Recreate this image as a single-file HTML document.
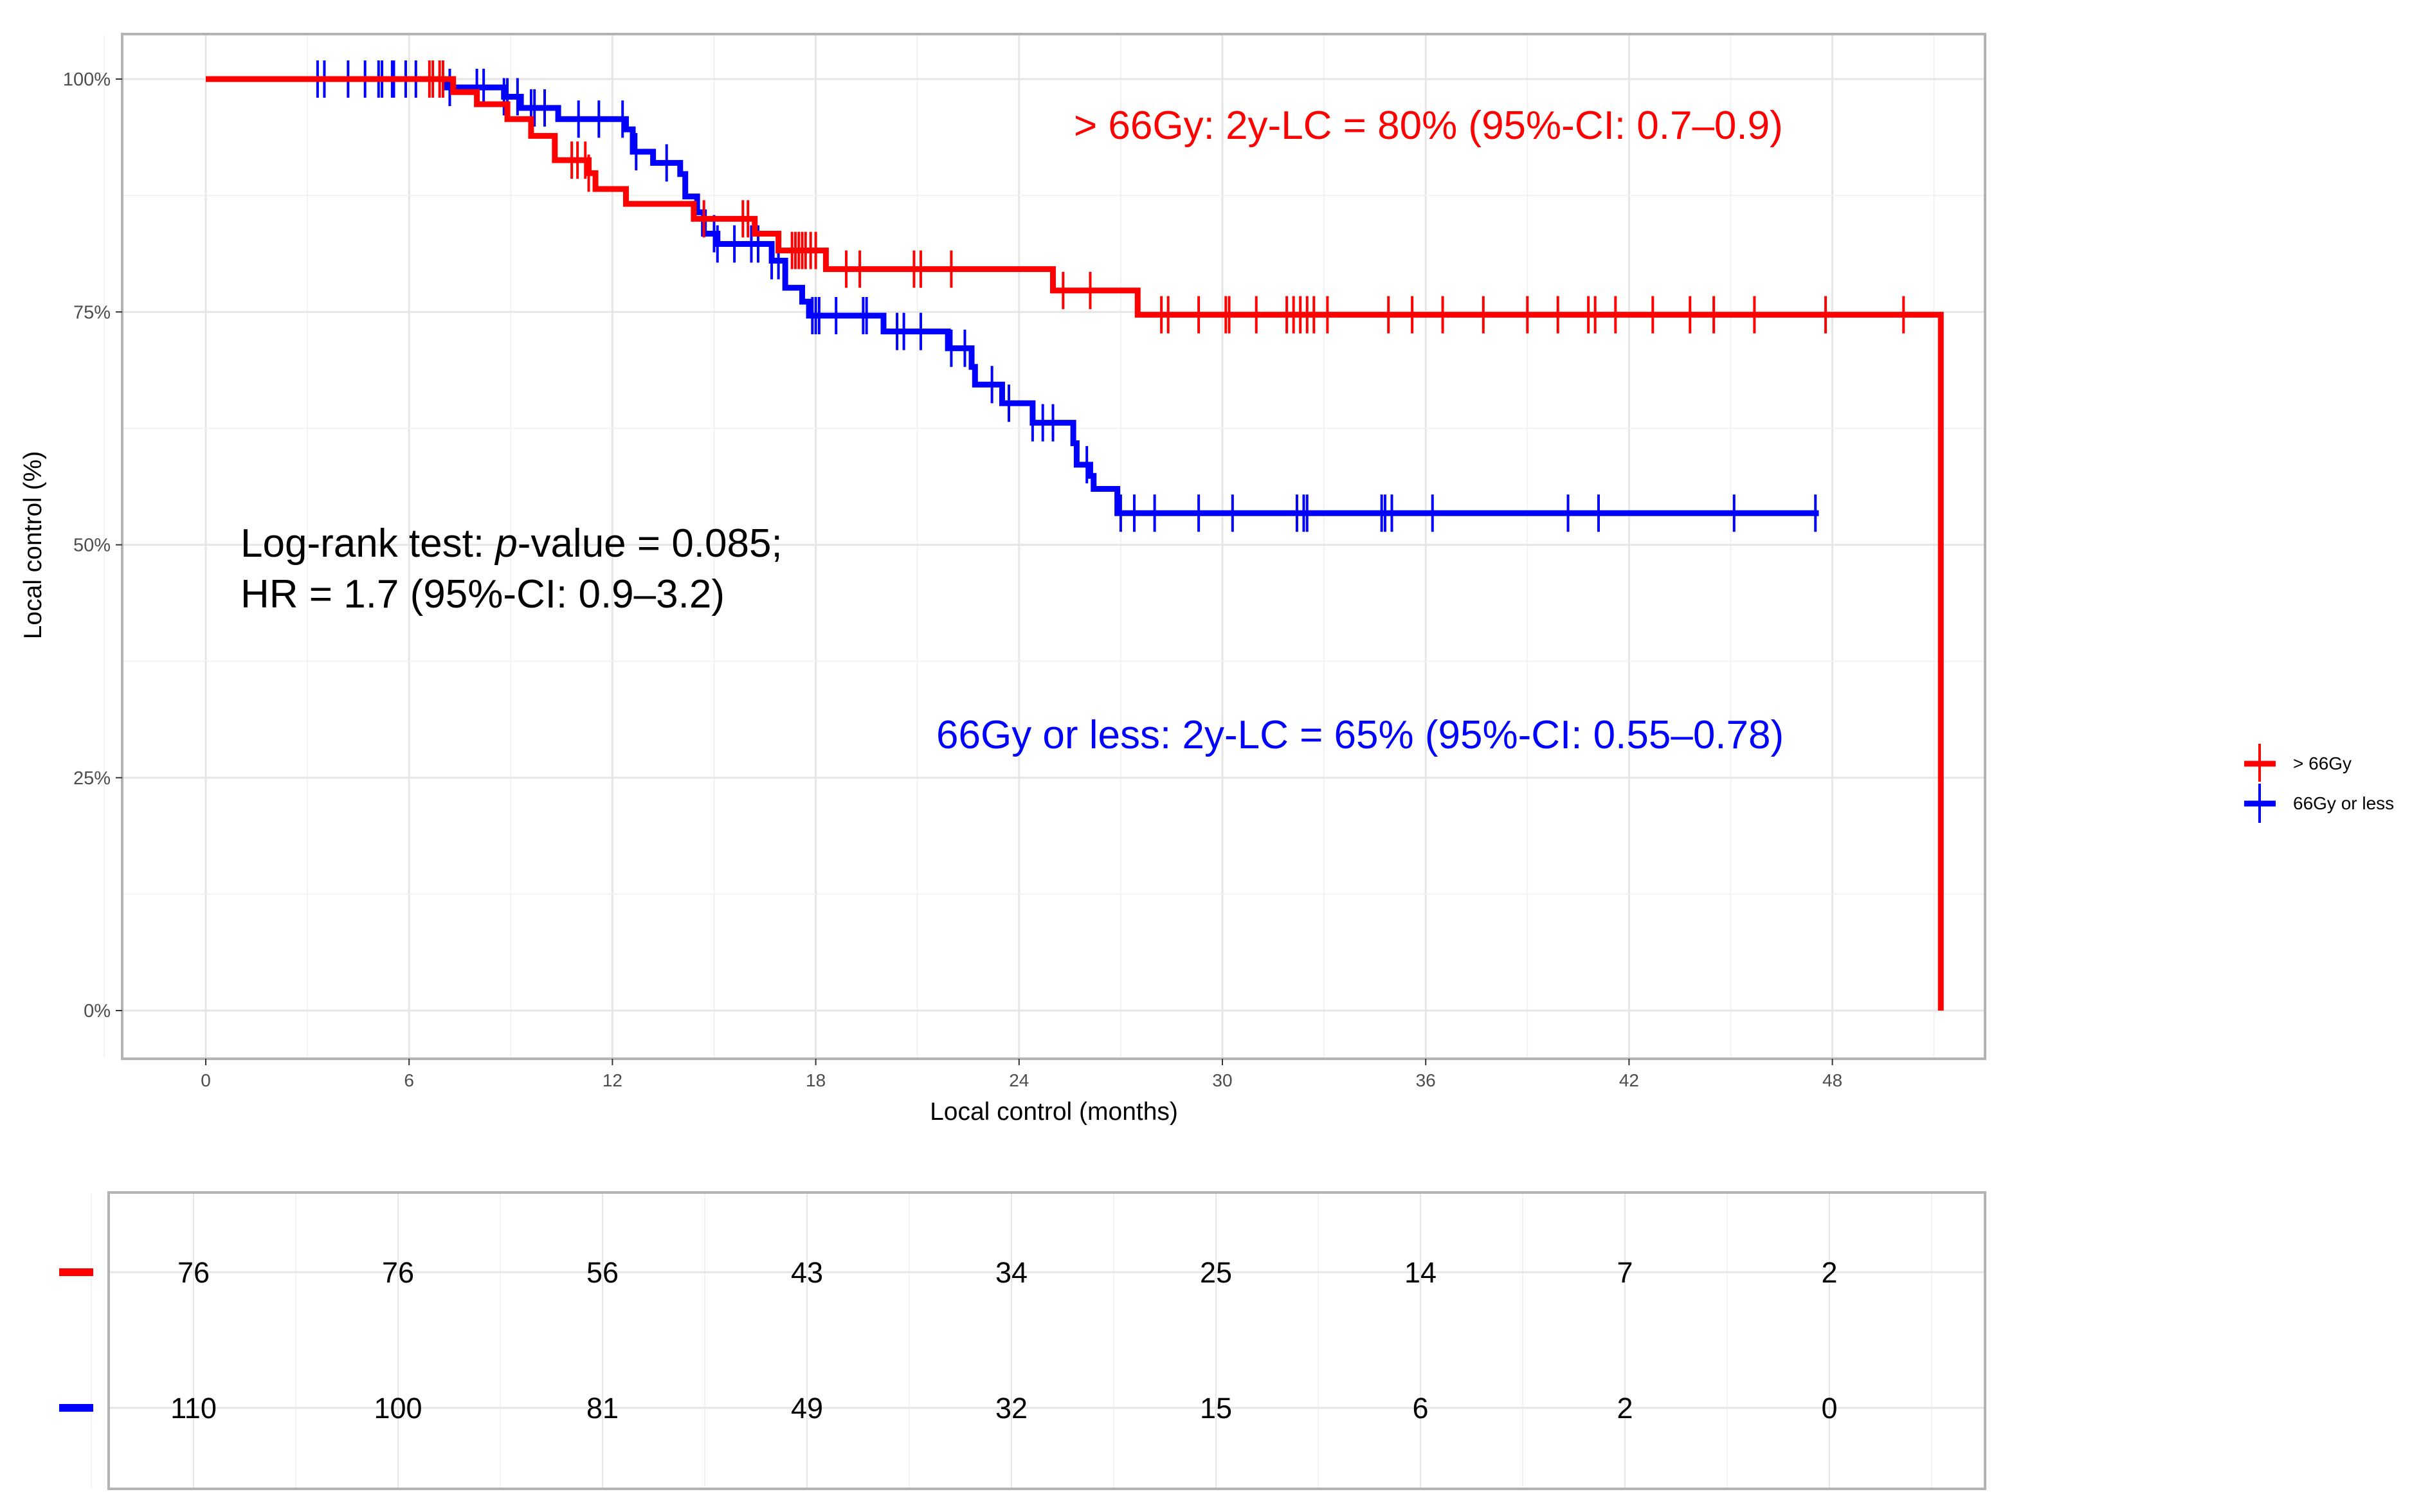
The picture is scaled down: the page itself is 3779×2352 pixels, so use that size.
<!DOCTYPE html>
<html><head><meta charset="utf-8"><style>
html,body{margin:0;padding:0;background:#fff;}
svg{display:block;font-family:"Liberation Sans",Arial,sans-serif;}
</style></head><body>
<svg id="chart" width="3779" height="2352" viewBox="0 0 3779 2352" xmlns="http://www.w3.org/2000/svg">
<rect x="0" y="0" width="3779" height="2352" fill="#fff"/>
<g id="plot-grid"></g>
<g id="curves"></g>
<rect x="190" y="53" width="2897" height="1594" fill="none" stroke="#b3b3b3" stroke-width="4"/>
<g id="axes"></g>
<text x="64" y="848" font-size="39" text-anchor="middle" transform="rotate(-90 64 848)" fill="#000">Local control (%)</text>
<text x="1639" y="1742" font-size="39" text-anchor="middle" fill="#000">Local control (months)</text>
<text x="1670" y="216" font-size="62" fill="#ff0000">&gt; 66Gy: 2y-LC = 80% (95%-CI: 0.7–0.9)</text>
<text x="1456" y="1164" font-size="62" fill="#0000ff">66Gy or less: 2y-LC = 65% (95%-CI: 0.55–0.78)</text>
<text x="374" y="866" font-size="62" fill="#000">Log-rank test: <tspan font-style="italic">p</tspan>-value = 0.085;</text>
<text x="374" y="945" font-size="62" fill="#000">HR = 1.7 (95%-CI: 0.9–3.2)</text>
<g>
 <g>
  <line x1="3490" y1="1188" x2="3539" y2="1188" stroke="#ff0000" stroke-width="9"/>
  <line x1="3514" y1="1157" x2="3514" y2="1216" stroke="#ff0000" stroke-width="4"/>
  <text x="3566" y="1197" font-size="28" fill="#000">&gt; 66Gy</text>
 </g>
 <g>
  <line x1="3490" y1="1250" x2="3539" y2="1250" stroke="#0000ff" stroke-width="9"/>
  <line x1="3514" y1="1219" x2="3514" y2="1280" stroke="#0000ff" stroke-width="4"/>
  <text x="3566" y="1259" font-size="28" fill="#000">66Gy or less</text>
 </g>
</g>
<g id="table"></g>
</svg>
<script>
const redTimes=[0,7.3,8.0,8.9,9.6,10.3,11.3,11.5,12.4,14.4,16.2,16.9,18.3,25.0,27.5,51.2];
const redSurv=[100,98.6,97.3,95.7,93.9,91.3,89.9,88.2,86.6,85.0,83.4,81.6,79.6,77.3,74.7,0];
const redEnd=51.2;
const redCensor=[6.6,6.7,6.9,7.0,10.8,10.97,11.2,11.3,14.7,15.85,16.0,17.3,17.4,17.5,17.6,17.7,17.85,18.0,18.9,19.3,20.9,21.1,22.0,25.3,26.1,28.2,28.4,29.3,30.1,30.2,31.0,31.9,32.1,32.3,32.5,32.7,33.1,34.9,35.6,36.5,37.7,39.0,39.9,40.8,41.0,41.6,42.7,43.8,44.5,45.7,47.8,50.1];
const blueTimes=[0,7.1,8.8,9.3,10.4,12.4,12.6,13.2,14.0,14.15,14.5,14.7,15.1,16.7,17.1,17.6,17.8,20.0,21.9,22.6,22.7,23.5,24.4,25.6,25.7,26.1,26.2,26.9];
const blueSurv=[100,99.1,98.1,96.9,95.7,94.6,92.2,91.0,89.8,87.4,85.7,83.4,82.3,80.5,77.6,76.1,74.6,72.9,71.1,69.1,67.2,65.2,63.1,60.9,58.6,57.4,56.0,53.4];
const blueEnd=47.6;
const blueCensor=[3.3,3.5,4.2,4.7,5.1,5.2,5.5,5.55,5.9,6.2,7.2,8.0,8.2,8.8,8.9,9.2,9.6,9.7,10.0,11.0,11.6,12.3,12.7,13.6,15.0,15.1,15.6,16.1,16.3,16.7,16.9,17.9,18.0,18.1,18.6,19.4,19.5,20.4,20.6,21.1,22.0,22.4,23.2,23.7,24.4,24.7,25.0,26.0,27.0,27.4,28.0,29.3,30.3,32.2,32.4,32.5,34.7,34.8,35.0,36.2,40.2,41.1,45.1,47.5];
const xTicks=[0,6,12,18,24,30,36,42,48];
const yTicks=[0,25,50,75,100];
const yTickLabels=["0%","25%","50%","75%","100%"];
const riskTimes=[0,6,12,18,24,30,36,42,48];
const riskRed=[76,76,56,43,34,25,14,7,2];
const riskBlue=[110,100,81,49,32,15,6,2,0];

const NS="http://www.w3.org/2000/svg";
function X(t){return 320+t*52.7;}
function Y(s){return 1572-s*14.49;}
function TX(t){return 301+t*53.0;}
function mk(tag,attrs,parent){const e=document.createElementNS(NS,tag);for(const k in attrs)e.setAttribute(k,attrs[k]);parent.appendChild(e);return e;}

const grid=document.getElementById('plot-grid');
for(let m=-3;m<=51;m+=3){
  const l=mk('line',{x1:X(m),y1:55,x2:X(m),y2:1645,stroke:m%6===0?'#e6e6e6':'#f2f2f2','stroke-width':m%6===0?3:2},grid);
  
  
}
for(let s=-12.5;s<=112.5;s+=12.5){
  const yy=Y(s); if(yy<55||yy>1645) continue;
  const l=mk('line',{x1:192,y1:yy,x2:3085,y2:yy,stroke:s%25===0?'#e6e6e6':'#f2f2f2','stroke-width':s%25===0?3:2},grid);
  
  
}
const axes=document.getElementById('axes');
xTicks.forEach(t=>{
  const tk=mk('line',{x1:X(t),y1:1647,x2:X(t),y2:1657,stroke:'#333','stroke-width':2},axes);
  
  
  const tx=mk('text',{x:X(t),y:1690,'font-size':28,'text-anchor':'middle',fill:'#4d4d4d'},axes);
  tx.textContent=t;
  
  
});
yTicks.forEach((v,i)=>{
  const tk=mk('line',{x1:180,y1:Y(v),x2:190,y2:Y(v),stroke:'#333','stroke-width':2},axes);
  
  
  const tx=mk('text',{x:172,y:Y(v)+10,'font-size':29,'text-anchor':'end',fill:'#4d4d4d'},axes);
  tx.textContent=yTickLabels[i];
  
  
});

const curves=document.getElementById('curves');
function stepVal(times,surv,t){let v=surv[0];for(let i=0;i<times.length;i++){if(times[i]<=t)v=surv[i];}return v;}
function drawCurve(times,surv,end,cens,color,name){
  let d='M'+X(times[0])+' '+Y(surv[0]);
  for(let i=1;i<times.length;i++){d+=' H'+X(times[i])+' V'+Y(surv[i]);}
  if(end>times[times.length-1]) d+=' H'+X(end);
  const p=mk('path',{d:d,fill:'none',stroke:color,'stroke-width':9,'stroke-linejoin':'miter'},curves);
  
  
  cens.forEach(t=>{
    const v=stepVal(times,surv,t);
    const c=mk('line',{x1:X(t),y1:Y(v)-29,x2:X(t),y2:Y(v)+29,stroke:color,'stroke-width':4},curves);
    
    
  });
}
drawCurve(blueTimes,blueSurv,blueEnd,blueCensor,'#0000ff','low-dose');
drawCurve(redTimes,redSurv,redEnd,redCensor,'#ff0000','high-dose');

const table=document.getElementById('table');
const rowY=[1979,2190];
for(let m=-3;m<=51;m+=3){
  const l=mk('line',{x1:TX(m),y1:1856,x2:TX(m),y2:2314,stroke:m%6===0?'#e6e6e6':'#f2f2f2','stroke-width':2},table);
  
  
}
rowY.forEach(y=>{
  const l=mk('line',{x1:171,y1:y,x2:3085,y2:y,stroke:'#e6e6e6','stroke-width':3},table);
  
  
});
const tb=mk('rect',{x:169,y:1855,width:2918,height:461,fill:'none',stroke:'#b3b3b3','stroke-width':4},table);


[[riskRed,'#ff0000','high-dose'],[riskBlue,'#0000ff','low-dose']].forEach((r,ri)=>{
  const mkr=mk('line',{x1:92,y1:rowY[ri],x2:145,y2:rowY[ri],stroke:r[1],'stroke-width':12},table);
  
  
  r[0].forEach((n,i)=>{
    const t=mk('text',{x:TX(riskTimes[i]),y:rowY[ri]+16,'font-size':45,'text-anchor':'middle',fill:'#000'},table);
    t.textContent=n;
    
    
  });
});
</script>
</body></html>
